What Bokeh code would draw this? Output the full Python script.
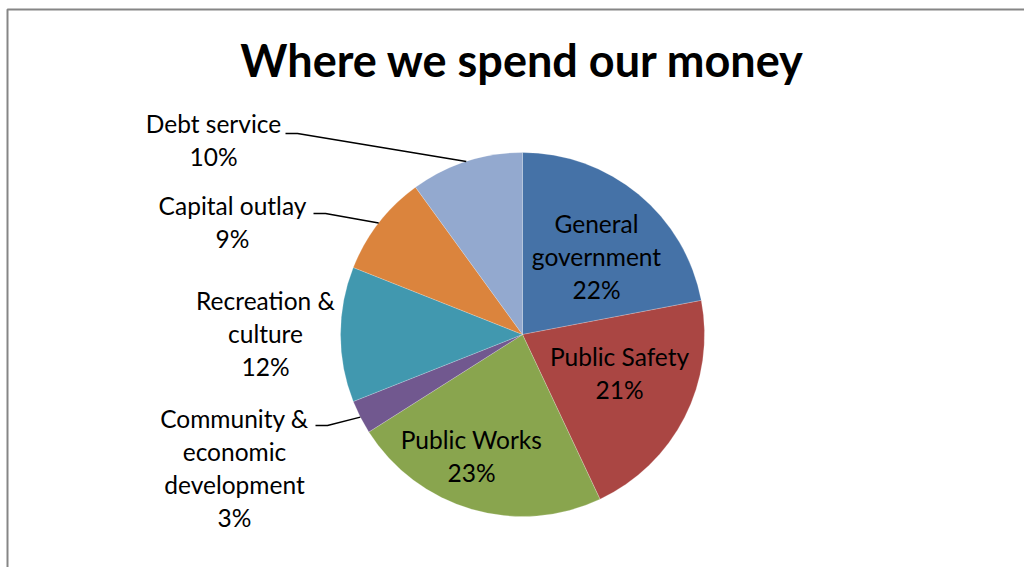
import math

from bokeh.core.properties import value
from bokeh.embed import file_html
from bokeh.models import ColumnDataSource
from bokeh.plotting import figure
from bokeh.resources import INLINE

# ---- data -------------------------------------------------------------
categories = [
    "General government",
    "Public Safety",
    "Public Works",
    "Community & economic development",
    "Recreation & culture",
    "Capital outlay",
    "Debt service",
]
shares = [22, 21, 23, 3, 12, 9, 10]  # percent of spending
colors = ["#4572A7", "#AA4643", "#89A54E", "#71588F", "#4198AF", "#DB843D", "#93A9CF"]

# label lines for each slice (the percentage is appended as the last line)
label_lines = [
    ["General", "government"],
    ["Public Safety"],
    ["Public Works"],
    ["Community &", "economic", "development"],
    ["Recreation &", "culture"],
    ["Capital outlay"],
    ["Debt service"],
]

# ---- layout -----------------------------------------------------------
W, H = 1024, 567
CX, CY, R = 522, 334, 182          # pie centre / radius in screen pixels
FONT = "Lato"
LABEL_SIZE = "24.5px"
LINE_STEP = 33                      # distance between label lines
LABEL_SHIFT = 10                    # baseline correction for the text glyph
TITLE_SHIFT = 16

# anchor (centre x, first baseline y) of each label block, screen pixels
label_anchor = [
    (596, 233),
    (619, 366),
    (471, 449),
    (234, 428),
    (265, 310),
    (232, 215),
    (213, 133),
]
# start of the leader line (screen pixels) for labels placed outside
leader_start = {3: (315, 425), 5: (313, 213), 6: (285, 133)}


def sy(y):
    """screen y (top-down) -> data y (bottom-up)"""
    return H - y


p = figure(
    width=W, height=H,
    x_range=(0, W), y_range=(0, H),
    x_axis_type=None, y_axis_type=None,
    min_border=0, toolbar_location=None,
    output_backend="svg",
)
p.grid.visible = False
p.outline_line_color = None
p.background_fill_color = "white"
p.border_fill_color = "white"

# chart-area frame (only its top and left edges fall inside the page)
p.line(x=[7, 7, W + 10], y=[-10, sy(9), sy(9)], line_color="#868686", line_width=2)

# ---- wedges -----------------------------------------------------------
total = float(sum(shares))
starts, ends, mids = [], [], []
cum = 0.0
for s in shares:
    a0 = math.pi / 2 - 2 * math.pi * cum / total
    cum += s
    a1 = math.pi / 2 - 2 * math.pi * cum / total
    starts.append(a0)
    ends.append(a1)
    mids.append((a0 + a1) / 2)

wedges = ColumnDataSource(dict(start=starts, end=ends, color=colors, name=categories))
p.wedge(
    x=CX, y=sy(CY), radius=R,
    start_angle="start", end_angle="end", direction="clock",
    fill_color="color", line_color="white", line_width=0.5, line_alpha=0.4,
    source=wedges,
)

# ---- leader lines -----------------------------------------------------
for i, (x0, y0) in leader_start.items():
    ex = CX + R * math.cos(mids[i])
    ey = sy(CY) + R * math.sin(mids[i])
    p.line(
        x=[x0, x0 + 12, ex], y=[sy(y0), sy(y0), ey],
        line_color="black", line_width=1.5,
    )

# ---- labels -----------------------------------------------------------
lx, ly, lt = [], [], []
for i, lines in enumerate(label_lines):
    ax, ay = label_anchor[i]
    rows = lines + [f"{shares[i]}%"]
    for k, t in enumerate(rows):
        lx.append(ax)
        ly.append(sy(ay + k * LINE_STEP - LABEL_SHIFT))
        lt.append(t)

p.text(
    x="x", y="y", text="text",
    source=ColumnDataSource(dict(x=lx, y=ly, text=lt)),
    text_font=value(FONT), text_font_size=LABEL_SIZE,
    text_align="center", text_baseline="alphabetic", text_color="black",
)

# ---- title ------------------------------------------------------------
p.text(
    x=[CX], y=[sy(75 - TITLE_SHIFT)], text=["Where we spend our money"],
    text_font=value(FONT), text_font_size="45px", text_font_style="bold",
    text_align="center", text_baseline="alphabetic", text_color="black",
)

open("out.html", "w").write(file_html(p, INLINE))
